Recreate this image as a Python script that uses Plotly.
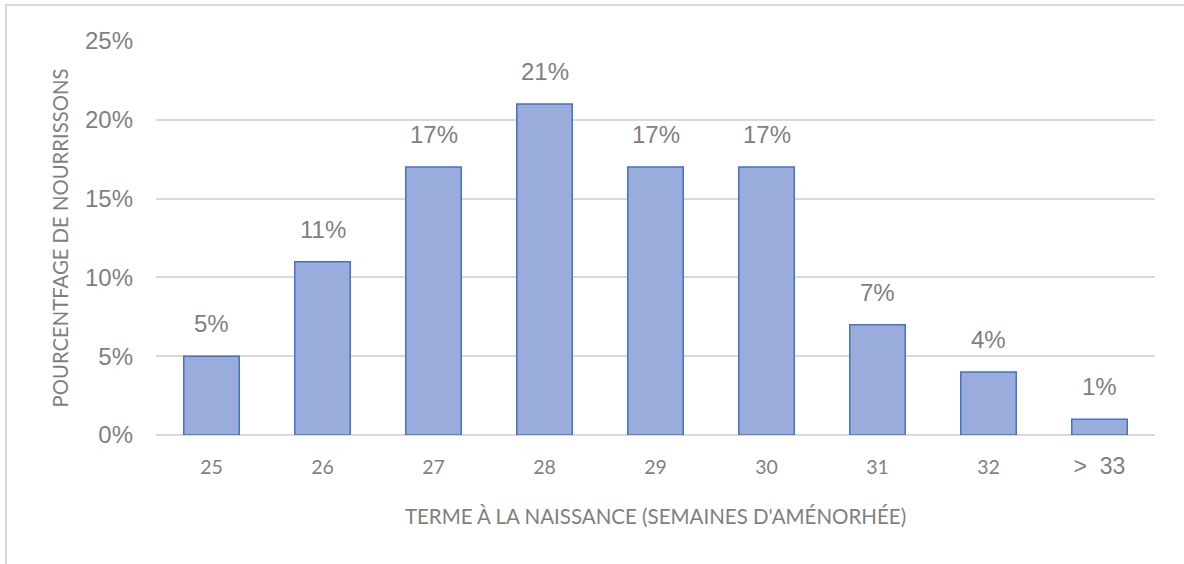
import plotly.graph_objects as go

categories = ["25", "26", "27", "28", "29", "30", "31", "32", "> 33"]
values = [5, 11, 17, 21, 17, 17, 7, 4, 1]
tick_labels_y = ["0%", "5%", "10%", "15%", "20%", "25%"]
tick_vals_y = [0, 5, 10, 15, 20, 25]
x_title = "TERME À LA NAISSANCE (SEMAINES D'AMÉNORHÉE)"
y_title = "POURCENTFAGE DE NOURRISSONS"

gray = "#7F7F7F"
x_ticktext = [c if not c.startswith(">") else
              '<span style="font-family:Liberation Sans, Arial;font-size:23px">' + c.replace(" ", "&nbsp; ") + "</span>"
              for c in categories]

fig = go.Figure()
fig.add_trace(go.Bar(
    x=list(range(len(categories))),
    y=values,
    marker=dict(color="#9AACDC", line=dict(color="#4472C4", width=1.5)),
    width=0.5,
    hoverinfo="skip",
))

for i, v in enumerate(values):
    fig.add_annotation(
        x=i, y=v, text=f"{v}%", showarrow=False, yanchor="bottom",
        yshift=17, font=dict(family="Liberation Sans, Arial", size=24, color=gray),
    )

fig.add_shape(type="rect", xref="paper", yref="paper",
              x0=-0.1502, x1=1.04, y0=-0.35, y1=1.0914,
              line=dict(color="#D9D9D9", width=2), fillcolor="rgba(0,0,0,0)", layer="below")

fig.update_layout(
    width=1184, height=564,
    margin=dict(l=156, r=29, t=41, b=129),
    paper_bgcolor="white", plot_bgcolor="white",
    showlegend=False,
    xaxis=dict(
        tickmode="array", tickvals=list(range(len(categories))), ticktext=x_ticktext,
        range=[-0.5, len(categories) - 0.5],
        showgrid=False, zeroline=False, showline=False, ticks="",
        tickfont=dict(family="Lato, Open Sans", size=19.5, color=gray),
        ticklabelstandoff=18,
        title=dict(text=x_title, font=dict(family="Lato, Open Sans", size=20.5, color=gray), standoff=32),
    ),
    yaxis=dict(
        range=[0, 25], tickmode="array", tickvals=tick_vals_y, ticktext=tick_labels_y,
        showgrid=True, gridcolor="#D9D9D9", gridwidth=1.5,
        zeroline=True, zerolinecolor="#D9D9D9", zerolinewidth=1.5,
        showline=False, ticks="",
        tickfont=dict(family="Liberation Sans, Arial", size=24, color=gray),
        ticklabelstandoff=22,
        title=dict(text=y_title, font=dict(family="Lato, Open Sans", size=20.3, color=gray), standoff=10),
    ),
)

fig.write_html("out.html", config={"displayModeBar": False},
               post_script="document.body.style.margin='0px';")
